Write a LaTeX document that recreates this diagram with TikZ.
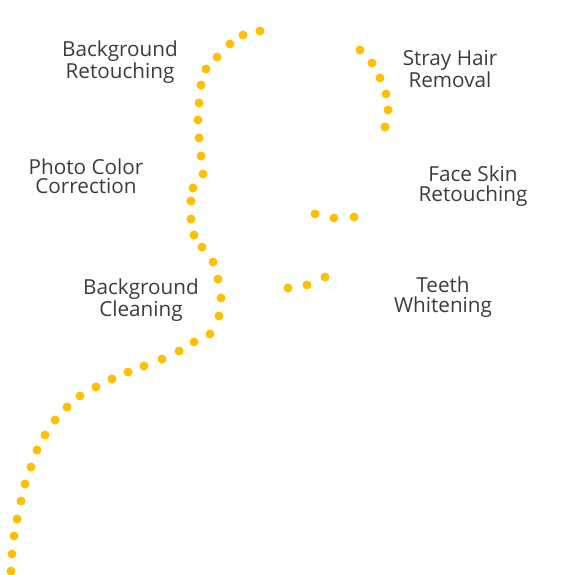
\documentclass[tikz,border=0pt]{standalone}
\usepackage{fontspec}
\setmainfont{Open Sans}
\usepackage{tikz}
\usetikzlibrary{positioning}

\definecolor{dotyellow}{RGB}{255,192,0}
\definecolor{labelgray}{RGB}{60,60,60}

\begin{document}
\begin{tikzpicture}[x=1pt, y=-1pt,
    label/.style={align=center, inner sep=0pt, text=labelgray, font=\fontsize{20.7}{19.5}\selectfont}]
    \useasboundingbox (0, 0) rectangle (575, 575);

    % Main dotted curve
    \foreach \x/\y in {260/31, 243/35, 230/44, 217/57, 206/69, 201/85, 199/103, 198/120,
        199/138, 201/156, 203/174, 193/188, 191/201, 191/219, 194/235, 202/247, 213/262,
        218/279, 221/298, 219/316, 210/334, 194/342, 179/351, 162/359, 144/366, 128/372,
        112/379, 96/387, 80/396, 67/407, 55/420, 45/435, 37/450, 31/467, 25/484, 21/501,
        17/519, 14/536, 12/554, 11/571} {
        \fill[dotyellow] (\x, \y) circle (4.5);
    }

    % Stray hair dots
    \foreach \x/\y in {360/50, 372/63, 380/78, 386/94, 388/110, 385/127} {
        \fill[dotyellow] (\x, \y) circle (4.5);
    }

    % Face skin dots
    \foreach \x/\y in {315/214, 334/218, 354/217} {
        \fill[dotyellow] (\x, \y) circle (4.5);
    }

    % Teeth dots
    \foreach \x/\y in {288/288, 307/285, 325/277} {
        \fill[dotyellow] (\x, \y) circle (4.5);
    }

    % Labels
    \node[label] (bgretouch) at (120, 62) {Background\\Retouching};
    \node[label] (colorfix) at (86, 176) {Photo Color\\Correction};
    \node[label] (bgclean) at (141, 300) {Background\\Cleaning};
    \node[label] (strayhair) at (450, 69) {Stray Hair\\Removal};
    \node[label] (faceskin) at (473, 186) {Face Skin\\Retouching};
    \node[label] (teeth) at (443, 297) {Teeth\\Whitening};
\end{tikzpicture}
\end{document}
